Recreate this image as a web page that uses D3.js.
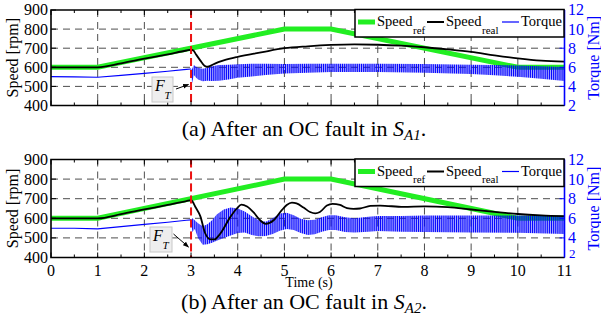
<!DOCTYPE html>
<html><head><meta charset="utf-8">
<script src="https://cdn.jsdelivr.net/npm/d3@7"></script>
<style>
html,body{margin:0;padding:0;background:#fff;}
svg{display:block;}
text{font-family:'Liberation Serif',serif;}
</style></head><body>
<svg id="chart" width="601" height="322" font-family="Liberation Serif, serif"></svg>
<script>
// ---- axis ticks ----
const timeTicks = [0,1,2,3,4,5,6,7,8,9,10,11];
const speedTicks = [400,500,600,700,800,900];
const torqueTicks = [2,4,6,8,10,12];
const faultTime = 3;

// ---- speed reference profile (same in both tests) ----
const refTime  = [0, 1, 5, 6, 10, 11];
const refSpeed = [600, 600, 800, 800, 600, 600];

// ---- (a) OC fault in S_A1 ----
const realTimeA  = [0, 1, 1.5, 2, 2.5, 2.9, 3.0, 3.05, 3.1, 3.2, 3.28, 3.33, 3.4, 3.5, 3.7, 4.0, 4.5, 5.0, 5.5, 6.0, 6.5, 7.0, 7.5, 8.0, 8.5, 9.0, 9.5, 10.0, 10.5, 11.0];
const realSpeedA = [600, 600, 621, 645, 668, 688, 692, 688, 670, 635, 610, 603, 606, 618, 636, 655, 678, 700, 710, 717, 720, 718, 713, 705, 694, 681, 663, 647, 635, 630];
const preTorqueTime = [0, 0.5, 1, 1.5, 2, 2.5, 2.9, 3.0];
const preTorqueA = [5.02, 5.0, 4.96, 5.15, 5.36, 5.58, 5.78, 5.82];
const postTorqueTimeA = [3.0, 3.02, 3.06, 3.1, 3.15, 3.25, 3.35, 3.45, 3.6, 3.8, 4.0, 4.3, 4.6, 5.0, 5.5, 6.0, 7.0, 8.0, 9.0, 9.5, 10.0, 10.5, 11.0];
const torqueHiA = [5.84, 5.80, 6.24, 6.08, 5.96, 5.84, 5.96, 6.12, 6.24, 6.28, 6.32, 6.36, 6.36, 6.34, 6.36, 6.38, 6.38, 6.34, 6.28, 6.24, 6.20, 6.12, 6.04];
const torqueLoA = [5.76, 4.30, 5.20, 4.96, 4.72, 4.54, 4.60, 4.56, 4.60, 4.72, 4.90, 5.04, 5.20, 5.34, 5.44, 5.50, 5.52, 5.44, 5.30, 5.16, 5.00, 4.80, 4.56];

// ---- (b) OC fault in S_A2 ----
const realTimeB  = [0, 1, 1.5, 2, 2.5, 2.9, 3.0, 3.1, 3.2, 3.3, 3.42, 3.5, 3.62, 3.84, 3.98, 4.08, 4.2, 4.34, 4.48, 4.6, 4.77, 4.94, 5.05, 5.16, 5.26, 5.41, 5.55, 5.66, 5.76, 5.91, 6.03, 6.19, 6.34, 6.48, 6.62, 6.84, 7.05, 7.55, 8.0, 8.5, 9.0, 9.5, 10.0, 10.5, 11.0];
const realSpeedB = [600, 600, 621, 645, 668, 688, 692, 655, 610, 525, 492, 492, 520, 606, 650, 670, 660, 630, 590, 572, 590, 640, 668, 680, 676, 655, 632, 625, 632, 665, 674, 668, 652, 648, 650, 663, 665, 658, 661, 657, 645, 633, 622, 615, 611];
const preTorqueB = [4.98, 4.98, 4.92, 5.15, 5.38, 5.6, 5.8, 5.84];
const postTorqueTimeB = [3.0, 3.03, 3.08, 3.15, 3.25, 3.35, 3.45, 3.55, 3.7, 3.85, 4.0, 4.15, 4.3, 4.45, 4.6, 4.75, 4.9, 5.05, 5.2, 5.35, 5.5, 5.65, 5.8, 5.95, 6.1, 6.3, 6.5, 6.8, 7.0, 7.5, 8, 9, 10, 11];
const torqueHiB = [5.84, 6.0, 5.8, 5.5, 5.2, 5.4, 5.8, 6.4, 6.9, 7.1, 7.0, 6.7, 6.2, 5.8, 5.64, 6.0, 6.5, 6.56, 6.3, 5.96, 5.8, 5.84, 6.1, 6.3, 6.3, 6.1, 6.0, 6.16, 6.24, 6.24, 6.28, 6.28, 6.28, 6.24];
const torqueLoB = [5.76, 4.6, 4.9, 4.0, 3.3, 3.36, 3.5, 3.7, 4.0, 4.24, 4.5, 4.56, 4.3, 4.16, 4.2, 4.4, 4.74, 4.9, 4.8, 4.5, 4.3, 4.36, 4.64, 4.8, 4.8, 4.6, 4.56, 4.64, 4.7, 4.64, 4.6, 4.56, 4.52, 4.4];

const GREEN = "#22ee22", BLUE = "#0000ff", RED = "#ee1111";
const FONT = "Liberation Serif, serif";

const svg = d3.select("#chart");
const defs = svg.append("defs");
// dense vertical hatch that renders the fast torque ripple band
const pat = defs.append("pattern").attr("id","ripple").attr("patternUnits","userSpaceOnUse")
  .attr("width",1.9).attr("height",8);
pat.append("rect").attr("x",0).attr("y",0).attr("width",1.25).attr("height",8).attr("fill",BLUE);
defs.append("marker").attr("id","arrow").attr("viewBox","0 0 10 10").attr("refX",9).attr("refY",5)
  .attr("markerWidth",6).attr("markerHeight",6).attr("orient","auto")
  .append("path").attr("d","M0,1 L10,5 L0,9 Z").attr("fill","#000");

const xLeft = 51, xRight = 564.5;
const x = d3.scaleLinear().domain([0,11]).range([xLeft, xRight]);

const panels = [
  { top: 10, bottom: 105.5, realT: realTimeA, realV: realSpeedA, pre: preTorqueA,
    postT: postTorqueTimeA, hi: torqueHiA, lo: torqueLoA, xLabels: false,
    ft: {bx:152, by:77, bw:21, bh:25, ax1:176, ay1:89, ax2:188.5, ay2:84.5},
    caption: ["(a) After an OC fault in ", "S", "A1", "."], capY: 136 },
  { top: 159.5, bottom: 257.5, realT: realTimeB, realV: realSpeedB, pre: preTorqueB,
    postT: postTorqueTimeB, hi: torqueHiB, lo: torqueLoB, xLabels: true,
    ft: {bx:150, by:227, bw:22, bh:25, ax1:173.5, ay1:234, ax2:188.5, ay2:247},
    caption: ["(b) After an OC fault in ", "S", "A2", "."], capY: 309 }
];

function txt(sel) { return sel.append("text").attr("font-family", FONT); }

panels.forEach((p, i) => {
  const g = svg.append("g");
  const y = d3.scaleLinear().domain([400,900]).range([p.bottom, p.top]);
  const yT = d3.scaleLinear().domain([2,12]).range([p.bottom, p.top]);
  const clipId = "clip"+i;
  defs.append("clipPath").attr("id",clipId).append("rect")
    .attr("x",xLeft).attr("y",p.top).attr("width",xRight-xLeft).attr("height",p.bottom-p.top);

  // dashed grid
  const grid = g.append("g").attr("stroke","#3a3a3a").attr("stroke-width",0.9).attr("stroke-dasharray","7,5");
  timeTicks.filter(t => t>0 && t<11).forEach(t => {
    grid.append("line").attr("x1",x(t)).attr("x2",x(t)).attr("y1",p.top).attr("y2",p.bottom);
  });
  speedTicks.filter(s => s>400 && s<900).forEach(s => {
    grid.append("line").attr("x1",xLeft).attr("x2",xRight).attr("y1",y(s)).attr("y2",y(s));
  });

  const plot = g.append("g").attr("clip-path",`url(#${clipId})`);
  // reference speed
  plot.append("path").datum(refTime.map((t,k)=>[t,refSpeed[k]]))
    .attr("d", d3.line().x(d=>x(d[0])).y(d=>y(d[1])))
    .attr("fill","none").attr("stroke",GREEN).attr("stroke-width",5);
  // torque before the fault
  plot.append("path").datum(preTorqueTime.map((t,k)=>[t,p.pre[k]]))
    .attr("d", d3.line().x(d=>x(d[0])).y(d=>yT(d[1])))
    .attr("fill","none").attr("stroke",BLUE).attr("stroke-width",1.1);
  // torque ripple band after the fault
  plot.append("path").datum(p.postT.map((t,k)=>[t,p.lo[k],p.hi[k]]))
    .attr("d", d3.area().x(d=>x(d[0])).y0(d=>yT(d[1])).y1(d=>yT(d[2])))
    .attr("fill","url(#ripple)").attr("stroke","none");
  // measured speed
  plot.append("path").datum(p.realT.map((t,k)=>[t,p.realV[k]]))
    .attr("d", d3.line().curve(d3.curveMonotoneX).x(d=>x(d[0])).y(d=>y(d[1])))
    .attr("fill","none").attr("stroke","#000").attr("stroke-width",1.8);
  // fault instant
  g.append("line").attr("x1",x(faultTime)).attr("x2",x(faultTime)).attr("y1",p.top).attr("y2",p.bottom)
    .attr("stroke",RED).attr("stroke-width",2).attr("stroke-dasharray","8,4");

  // ticks
  const tk = g.append("g").attr("stroke","#000").attr("stroke-width",1);
  d3.range(0, 11.01, 0.5).forEach(t => {
    const len = Number.isInteger(t) ? 5 : 3;
    tk.append("line").attr("x1",x(t)).attr("x2",x(t)).attr("y1",p.bottom).attr("y2",p.bottom-len);
    tk.append("line").attr("x1",x(t)).attr("x2",x(t)).attr("y1",p.top).attr("y2",p.top+len);
  });
  speedTicks.forEach(s => {
    tk.append("line").attr("x1",xLeft).attr("x2",xLeft+5).attr("y1",y(s)).attr("y2",y(s));
  });
  torqueTicks.forEach(v => {
    g.append("line").attr("x1",xRight).attr("x2",xRight-5).attr("y1",yT(v)).attr("y2",yT(v))
      .attr("stroke",BLUE).attr("stroke-width",1);
  });

  // frame
  g.append("path").attr("d",`M${xRight},${p.top} H${xLeft} V${p.bottom} H${xRight}`)
    .attr("fill","none").attr("stroke","#000").attr("stroke-width",1.6);
  g.append("line").attr("x1",xRight).attr("x2",xRight).attr("y1",p.top).attr("y2",p.bottom)
    .attr("stroke",BLUE).attr("stroke-width",1.6);

  // tick labels
  speedTicks.forEach(s => {
    txt(g).attr("x",48).attr("y",y(s)).attr("dy","0.34em").attr("text-anchor","end")
      .attr("font-size",16).text(s);
  });
  torqueTicks.forEach(v => {
    if (p.xLabels && v === 2) return;
    txt(g).attr("x",568).attr("y",yT(v)).attr("dy","0.34em").attr("text-anchor","start")
      .attr("font-size",16).attr("fill",BLUE).text(v);
  });
  if (p.xLabels) {
    // lowest torque label sits just above the last time label
    txt(g).attr("x",569).attr("y",yT(2)-4).attr("dy","0.34em").attr("text-anchor","start")
      .attr("font-size",13).attr("fill",BLUE).text(2);
    timeTicks.forEach(t => {
      txt(g).attr("x",x(t)).attr("y",275.5).attr("text-anchor","middle")
        .attr("font-size",16).text(t);
    });
    txt(g).attr("x",309).attr("y",286.5).attr("text-anchor","middle")
      .attr("font-size",14).text("Time (s)");
  }
  const cy = (p.top+p.bottom)/2;
  txt(g).attr("transform",`translate(13,${cy}) rotate(-90)`).attr("text-anchor","middle")
    .attr("dy","0.34em").attr("font-size",16).text("Speed [rpm]");
  txt(g).attr("transform",`translate(594,${cy}) rotate(-90)`).attr("text-anchor","middle")
    .attr("dy","0.34em").attr("font-size",16).attr("fill",BLUE).text("Torque [Nm]");

  // legend
  const bx = 355, by = p.top - 0.5, bw = 209, bh = 27.5;
  const lg = g.append("g");
  lg.append("rect").attr("x",bx).attr("y",by).attr("width",bw).attr("height",bh)
    .attr("fill","#fff").attr("stroke","#000").attr("stroke-width",1.5);
  const items = [
    {name:"Speed", sub:"ref", color:GREEN, w:5, lx:3, tx:22, sx:58},
    {name:"Speed", sub:"real", color:"#000", w:2, lx:72, tx:91, sx:127},
    {name:"Torque", sub:null, color:BLUE, w:1.2, lx:147, tx:166, sx:0}
  ];
  items.forEach(it => {
    lg.append("line").attr("x1",bx+it.lx).attr("x2",bx+it.lx+17).attr("y1",by+12.5).attr("y2",by+12.5)
      .attr("stroke",it.color).attr("stroke-width",it.w);
    txt(lg).attr("x",bx+it.tx).attr("y",by+16.5).attr("font-size",14.5).text(it.name);
    if (it.sub) txt(lg).attr("x",bx+it.sx).attr("y",by+24).attr("font-size",11).text(it.sub);
  });

  // fault marker label
  const f = p.ft;
  g.append("rect").attr("x",f.bx).attr("y",f.by).attr("width",f.bw).attr("height",f.bh)
    .attr("fill","#eeeeee").attr("stroke","#c8c8c8").attr("stroke-width",1);
  txt(g).attr("x",f.bx+3).attr("y",f.by+14).attr("font-size",16).attr("font-style","italic").text("F");
  txt(g).attr("x",f.bx+12.5).attr("y",f.by+22).attr("font-size",11).attr("font-style","italic").text("T");
  g.append("line").attr("x1",f.ax1).attr("y1",f.ay1).attr("x2",f.ax2).attr("y2",f.ay2)
    .attr("stroke","#000").attr("stroke-width",1).attr("marker-end","url(#arrow)");

  // caption
  const cap = txt(g).attr("x",304).attr("y",p.capY).attr("text-anchor","middle").attr("font-size",22);
  cap.append("tspan").text(p.caption[0]);
  cap.append("tspan").attr("font-style","italic").text(p.caption[1]);
  cap.append("tspan").attr("font-size",15).attr("dy",4).attr("font-style","italic").text(p.caption[2]);
  cap.append("tspan").attr("dy",-4).text(p.caption[3]);
});
</script>
</body></html>
